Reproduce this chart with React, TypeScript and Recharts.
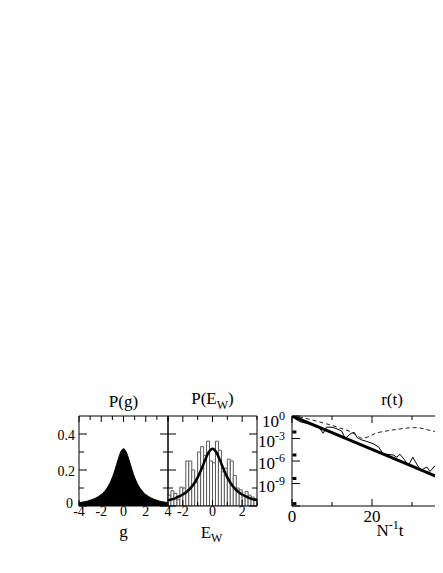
import React from "react";
import { Area, Bar, ComposedChart, Line, Scatter, XAxis, YAxis } from "recharts";

const FONT = '"Liberation Serif", "DejaVu Serif", serif';

// left panel: P(g)
const gGrid = [-4, -3.75, -3.5, -3.25, -3, -2.75, -2.5, -2.25, -2, -1.75, -1.5, -1.25, -1, -0.75, -0.5, -0.25, 0,
  0.25, 0.5, 0.75, 1, 1.25, 1.5, 1.75, 2, 2.25, 2.5, 2.75, 3, 3.25, 3.5, 3.75, 4];
const pOfG = [0.019, 0.021, 0.024, 0.027, 0.032, 0.037, 0.044, 0.053, 0.064, 0.078, 0.098, 0.124, 0.159, 0.204, 0.255, 0.3, 0.318,
  0.3, 0.255, 0.204, 0.159, 0.124, 0.098, 0.078, 0.064, 0.053, 0.044, 0.037, 0.032, 0.027, 0.024, 0.021, 0.019];

// middle panel: P(E_W) histogram + curve
const binCenters = [-2.9, -2.7, -2.5, -2.3, -2.1, -1.9, -1.7, -1.5, -1.3, -1.1, -0.9, -0.7, -0.5, -0.3, -0.1,
  0.1, 0.3, 0.5, 0.7, 0.9, 1.1, 1.3, 1.5, 1.7, 1.9, 2.1, 2.3, 2.5, 2.7, 2.9];
const binHeights = [0.06, 0.085, 0.07, 0.035, 0.105, 0.1, 0.25, 0.25, 0.2, 0.13, 0.3, 0.33, 0.28, 0.36, 0.25,
  0.24, 0.36, 0.31, 0.19, 0.21, 0.26, 0.25, 0.17, 0.1, 0.09, 0.06, 0.08, 0.06, 0.05, 0.04];
const ewGrid = [-3, -2.75, -2.5, -2.25, -2, -1.75, -1.5, -1.25, -1, -0.75, -0.5, -0.25, 0,
  0.25, 0.5, 0.75, 1, 1.25, 1.5, 1.75, 2, 2.25, 2.5, 2.75, 3];
const pOfEw = [0.032, 0.037, 0.044, 0.053, 0.064, 0.078, 0.098, 0.124, 0.159, 0.204, 0.255, 0.3, 0.318,
  0.3, 0.255, 0.204, 0.159, 0.124, 0.098, 0.078, 0.064, 0.053, 0.044, 0.037, 0.032];

// right panel: r(t)
const tThick = [0, 10, 20, 30, 40, 50];
const rThick = [1, 5.9e-3, 3.5e-5, 2.0e-7, 1.2e-9, 7.1e-12];
const tOsc = [0, 1, 2, 3, 4, 5, 6.5, 7.8, 8.6, 10, 11, 12.4, 13.3, 14.8, 15.6, 16.3, 17.5, 18.7, 20.3, 21.6, 22.8,
  23.7, 25.3, 26.2, 27, 28.2, 29.1, 30.2, 31.6, 32.4, 33.7, 34.5, 35.8, 37, 38, 39.2, 40];
const rOsc = [1, 0.355, 0.178, 0.126, 0.1, 0.079, 0.05, 5.0e-3, 0.032, 0.032, 0.022, 0.01, 1.0e-3, 5.0e-3, 6.3e-3,
  1.3e-3, 6.3e-4, 4.0e-4, 2.0e-4, 7.9e-5, 8.9e-6, 7.9e-6, 6.3e-6, 3.2e-6, 7.9e-6, 1.3e-6, 2.5e-7, 3.2e-6, 1.6e-7,
  6.3e-8, 1.6e-7, 4.0e-8, 2.5e-7, 1.0e-7, 3.2e-8, 1.0e-8, 2.5e-8];
const tDash = [0, 2, 4, 6, 8, 10, 12, 14, 16, 17.5, 19, 20.5, 22, 24, 26, 28, 30, 32, 34, 36, 38, 40, 44, 48];
const rDash = [1, 0.71, 0.4, 0.22, 0.11, 0.056, 0.025, 0.011, 3.2e-3, 1.1e-3, 1.6e-3, 4.0e-3, 7.1e-3, 0.011, 0.016,
  0.022, 0.028, 0.025, 0.014, 7.9e-3, 4.5e-3, 2.5e-3, 1.0e-3, 5.0e-4];
const tMark = [0.6, 0.6, 0.6, 0.6];
const rMark = [7.4e-3, 6.3e-6, 4.7e-9, 2.1e-12];

const gData = gGrid.map((g, i) => ({ g, p: pOfG[i] }));
const histData = binCenters.map((c, i) => ({ c: String(c), x: c, h: binHeights[i] }));
const ewData = ewGrid.map((x, i) => ({ x, p: pOfEw[i] }));
const thickData = tThick.map((t, i) => ({ t, r: rThick[i] }));
const oscData = tOsc.map((t, i) => ({ t, r: rOsc[i] }));
const dashData = tDash.map((t, i) => ({ t, r: rDash[i] }));
const markData = tMark.map((t, i) => ({ t, r: rMark[i] }));

type Side = "bottom" | "top" | "left" | "right";

interface TickOpts {
  side: Side;
  majors: number[];
  labelled?: number[];
  majorLen: number;
  minorLen: number;
  fontSize?: number;
  gap?: (v: number) => number;
  dy?: (v: number) => number;
  label?: (v: number) => React.ReactNode;
}

const inList = (list: number[], v: number) =>
  list.some((m) => m === v || Math.abs(m - v) <= Math.abs(m) * 1e-6);

// ticks point inward, labels sit outside (xmgrace style)
function edgeTick(o: TickOpts) {
  return function Tick(props: any) {
    const { x, y, payload } = props;
    const v = Number(payload.value);
    const major = inList(o.majors, v);
    const showLabel = inList(o.labelled ?? o.majors, v);
    const len = major ? o.majorLen : o.minorLen;
    const fs = o.fontSize ?? 14;
    let x2 = x;
    let y2 = y;
    if (o.side === "bottom") y2 = y - len;
    if (o.side === "top") y2 = y + len;
    if (o.side === "left") x2 = x + len;
    if (o.side === "right") x2 = x - len;
    let text: React.ReactNode = null;
    if (showLabel && o.label) {
      if (o.side === "bottom") {
        text = (
          <text x={x} y={y + (o.gap ? o.gap(v) : 10)} textAnchor="middle" fontSize={fs} fontFamily={FONT} fill="#000">
            {o.label(v)}
          </text>
        );
      } else if (o.side === "left") {
        text = (
          <text x={x - (o.gap ? o.gap(v) : 4)} y={y + (o.dy ? o.dy(v) : 5)} textAnchor="end" fontSize={fs} fontFamily={FONT} fill="#000">
            {o.label(v)}
          </text>
        );
      }
    }
    return (
      <g>
        <line x1={x} y1={y} x2={x2} y2={y2} stroke="#000" strokeWidth={1} />
        {text}
      </g>
    );
  };
}

const axisLine = { stroke: "#000", strokeWidth: 1 };

function titleLabel(node: React.ReactNode, gap: number, fontSize = 17, shift = 0) {
  return (p: any) => {
    const vb = p.viewBox;
    return (
      <text x={vb.x + vb.width / 2 + shift} y={vb.y + vb.height - gap} textAnchor="middle" fontSize={fontSize} fontFamily={FONT} fill="#000">
        {node}
      </text>
    );
  };
}

function bottomLabel(node: React.ReactNode, gap: number, fontSize = 17, shift = 0) {
  return (p: any) => {
    const vb = p.viewBox;
    return (
      <text x={vb.x + vb.width / 2 + shift} y={vb.y + gap} textAnchor="middle" fontSize={fontSize} fontFamily={FONT} fill="#000">
        {node}
      </text>
    );
  };
}

const gTicks = [-4, -3, -2, -1, 0, 1, 2, 3, 4];
const ewTicks = [-3, -2, -1, 0, 1, 2, 3];
const pTicks = [0, 0.1, 0.2, 0.3, 0.4];
const tTicks = [0, 10, 20, 30, 40, 50];
const rTicks = [1, 1e-3, 1e-6, 1e-9, 1e-12];

const fmtNum = (v: number) => String(v);
const fmtPow = (v: number) => (
  <>
    10
    <tspan dy={-7} fontSize={12}>
      {Math.round(Math.log10(v))}
    </tspan>
  </>
);

function PanelG() {
  return (
    <ComposedChart width={140} height={175} data={gData} margin={{ top: 35, right: 11, bottom: 0, left: 0 }}>
      <XAxis
        xAxisId="b"
        dataKey="g"
        type="number"
        domain={[-4, 4]}
        allowDataOverflow
        ticks={gTicks}
        interval={0}
        height={49}
        tickSize={0}
        tickMargin={0}
        tickLine={false}
        axisLine={axisLine}
        tick={edgeTick({ side: "bottom", majors: [-4, -2, 0, 2, 4], majorLen: 6, minorLen: 4, gap: () => 10, label: fmtNum })}
        label={bottomLabel("g", 31)}
      />
      <XAxis
        xAxisId="t"
        dataKey="g"
        type="number"
        orientation="top"
        domain={[-4, 4]}
        allowDataOverflow
        ticks={gTicks}
        interval={0}
        height={1}
        tickSize={0}
        tickMargin={0}
        tickLine={false}
        axisLine={axisLine}
        tick={edgeTick({ side: "top", majors: [-4, -2, 0, 2, 4], majorLen: 6, minorLen: 4 })}
        label={titleLabel("P(g)", 9)}
      />
      <YAxis
        yAxisId="l"
        dataKey="p"
        type="number"
        domain={[0, 0.5]}
        allowDataOverflow
        ticks={pTicks}
        interval={0}
        width={39}
        tickSize={0}
        tickMargin={0}
        tickLine={false}
        axisLine={axisLine}
        tick={edgeTick({
          side: "left",
          majors: [0, 0.2, 0.4],
          majorLen: 8,
          minorLen: 5,
          gap: (v) => (v === 0 ? 6 : 4),
          dy: (v) => (v === 0 ? 1.5 : 6),
          label: fmtNum,
        })}
      />
      <YAxis
        yAxisId="r"
        dataKey="p"
        type="number"
        orientation="right"
        domain={[0, 0.5]}
        allowDataOverflow
        ticks={pTicks}
        interval={0}
        width={1}
        tickSize={0}
        tickMargin={0}
        tickLine={false}
        axisLine={axisLine}
        tick={edgeTick({ side: "right", majors: [0, 0.2, 0.4], majorLen: 8, minorLen: 5 })}
      />
      <Area
        xAxisId="b"
        yAxisId="l"
        dataKey="p"
        type="monotone"
        fill="#000"
        fillOpacity={1}
        stroke="#000"
        strokeWidth={1}
        dot={false}
        activeDot={false}
        isAnimationActive={false}
      />
    </ComposedChart>
  );
}

function PanelEw() {
  return (
    <ComposedChart
      width={108}
      height={175}
      data={histData}
      barCategoryGap={0}
      barGap={0}
      margin={{ top: 35, right: 10, bottom: 0, left: 0 }}
    >
      <XAxis xAxisId="cat" dataKey="c" type="category" hide />
      <XAxis
        xAxisId="b"
        dataKey="x"
        type="number"
        domain={[-3, 3]}
        allowDataOverflow
        ticks={ewTicks}
        interval={0}
        height={49}
        tickSize={0}
        tickMargin={0}
        tickLine={false}
        axisLine={axisLine}
        tick={edgeTick({ side: "bottom", majors: [-2, 0, 2], majorLen: 6, minorLen: 4, gap: () => 10, label: fmtNum })}
        label={bottomLabel(
          <>
            E
            <tspan dy={4} fontSize={12}>
              W
            </tspan>
          </>,
          32,
          17,
          -1
        )}
      />
      <XAxis
        xAxisId="t"
        dataKey="x"
        type="number"
        orientation="top"
        domain={[-3, 3]}
        allowDataOverflow
        ticks={ewTicks}
        interval={0}
        height={1}
        tickSize={0}
        tickMargin={0}
        tickLine={false}
        axisLine={axisLine}
        tick={edgeTick({ side: "top", majors: [-2, 0, 2], majorLen: 6, minorLen: 4 })}
        label={titleLabel(
          <>
            P(E
            <tspan dy={5} fontSize={12}>
              W
            </tspan>
            <tspan dy={-5}>)</tspan>
          </>,
          12
        )}
      />
      <YAxis
        yAxisId="l"
        dataKey="h"
        type="number"
        domain={[0, 0.5]}
        allowDataOverflow
        ticks={pTicks}
        interval={0}
        width={8}
        tickSize={0}
        tickMargin={0}
        tickLine={false}
        axisLine={axisLine}
        tick={edgeTick({ side: "left", majors: [0, 0.2, 0.4], majorLen: 8, minorLen: 5 })}
      />
      <YAxis
        yAxisId="r"
        dataKey="h"
        type="number"
        orientation="right"
        domain={[0, 0.5]}
        allowDataOverflow
        ticks={pTicks}
        interval={0}
        width={1}
        tickSize={0}
        tickMargin={0}
        tickLine={false}
        axisLine={axisLine}
        tick={edgeTick({ side: "right", majors: [0, 0.2, 0.4], majorLen: 8, minorLen: 5 })}
      />
      <Bar xAxisId="cat" yAxisId="l" dataKey="h" fill="#fff" stroke="#5a5a5a" strokeWidth={1} isAnimationActive={false} />
      <Line
        xAxisId="b"
        yAxisId="l"
        data={ewData}
        dataKey="p"
        type="monotone"
        stroke="#000"
        strokeWidth={2.5}
        dot={false}
        activeDot={false}
        isAnimationActive={false}
      />
    </ComposedChart>
  );
}

const squareMark = (p: any) => <rect x={p.cx - 2} y={p.cy - 1.5} width={4} height={3} fill="#000" />;

function PanelR() {
  return (
    <ComposedChart width={252} height={175} margin={{ top: 35, right: 9, bottom: 0, left: 0 }}>
      <XAxis
        xAxisId="b"
        dataKey="t"
        type="number"
        domain={[0, 50]}
        allowDataOverflow
        ticks={tTicks}
        interval={0}
        height={49}
        tickSize={0}
        tickMargin={0}
        tickLine={false}
        axisLine={axisLine}
        tick={edgeTick({
          side: "bottom",
          majors: [0, 20, 40],
          labelled: [0, 20],
          majorLen: 7,
          minorLen: 4,
          fontSize: 17,
          gap: () => 15.5,
          label: fmtNum,
        })}
        label={bottomLabel(
          <>
            N
            <tspan dy={-7} fontSize={12}>
              -1
            </tspan>
            <tspan dy={7}>t</tspan>
          </>,
          30,
          17,
          -2
        )}
      />
      <XAxis
        xAxisId="t"
        dataKey="t"
        type="number"
        orientation="top"
        domain={[0, 50]}
        allowDataOverflow
        ticks={tTicks}
        interval={0}
        height={1}
        tickSize={0}
        tickMargin={0}
        tickLine={false}
        axisLine={axisLine}
        tick={edgeTick({ side: "top", majors: [0, 20, 40], majorLen: 7, minorLen: 4 })}
        label={titleLabel("r(t)", 11)}
      />
      <YAxis
        yAxisId="l"
        dataKey="r"
        type="number"
        scale="log"
        domain={[1e-12, 1]}
        allowDataOverflow
        ticks={rTicks}
        interval={0}
        width={42}
        tickSize={0}
        tickMargin={0}
        tickLine={false}
        axisLine={axisLine}
        tick={edgeTick({
          side: "left",
          majors: rTicks,
          labelled: [1, 1e-3, 1e-6, 1e-9],
          majorLen: 8,
          minorLen: 8,
          fontSize: 17,
          gap: () => 7,
          dy: (v) => (v === 1 ? 10.5 : 8),
          label: fmtPow,
        })}
      />
      <YAxis
        yAxisId="r"
        dataKey="r"
        type="number"
        scale="log"
        orientation="right"
        domain={[1e-12, 1]}
        allowDataOverflow
        ticks={rTicks}
        interval={0}
        width={1}
        tickSize={0}
        tickMargin={0}
        tickLine={false}
        axisLine={axisLine}
        tick={edgeTick({ side: "right", majors: rTicks, majorLen: 8, minorLen: 8 })}
      />
      <Line
        xAxisId="b"
        yAxisId="l"
        data={dashData}
        dataKey="r"
        type="monotone"
        stroke="#222"
        strokeWidth={1}
        strokeDasharray="4 3"
        dot={false}
        activeDot={false}
        isAnimationActive={false}
      />
      <Line
        xAxisId="b"
        yAxisId="l"
        data={oscData}
        dataKey="r"
        type="linear"
        stroke="#000"
        strokeWidth={1}
        dot={false}
        activeDot={false}
        isAnimationActive={false}
      />
      <Line
        xAxisId="b"
        yAxisId="l"
        data={thickData}
        dataKey="r"
        type="linear"
        stroke="#000"
        strokeWidth={3}
        dot={false}
        activeDot={false}
        isAnimationActive={false}
      />
      <Scatter xAxisId="b" yAxisId="l" data={markData} dataKey="r" shape={squareMark} isAnimationActive={false} />
    </ComposedChart>
  );
}

export default function App() {
  return (
    <div style={{ position: "relative", width: 435, height: 555, overflow: "hidden", background: "#fff" }}>
      <div style={{ position: "absolute", left: 32, top: 372 }}>
        <PanelG />
      </div>
      <div style={{ position: "absolute", left: 152, top: 372 }}>
        <PanelEw />
      </div>
      <div style={{ position: "absolute", left: 242, top: 372 }}>
        <PanelR />
      </div>
    </div>
  );
}
